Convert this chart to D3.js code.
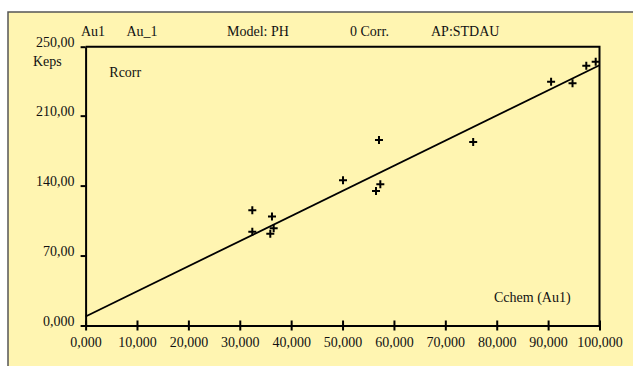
<!DOCTYPE html>
<html>
<head>
<meta charset="utf-8">
<script src="https://cdn.jsdelivr.net/npm/d3@7"></script>
<style>
  html, body { margin: 0; padding: 0; background: #ffffff; }
  svg { display: block; }
</style>
</head>
<body>
<svg id="chart"></svg>
<script>
// Measured points: chemical concentration (x) vs corrected counts (y)
const cchemValues = [32440, 32440, 36270, 36600, 35940, 50090, 57090, 57350, 56510, 75420, 90580, 94750, 97430, 99260];
const rcorrValues = [115.4, 93.7, 109.0, 97.4, 91.7, 145.4, 185.7, 141.4, 134.7, 183.7, 244.0, 242.4, 260.0, 264.0];

// Calibration line (intercept, slope)
const fitIntercept = 9.0;
const fitSlope = 0.002515;

const xTickValues = [0, 10000, 20000, 30000, 40000, 50000, 60000, 70000, 80000, 90000, 100000];
const xTickLabels = ["0,000", "10,000", "20,000", "30,000", "40,000", "50,000", "60,000", "70,000", "80,000", "90,000", "100,000"];
const yTickValues = [0, 70, 140, 210];
const yTickLabels = ["0,000", "70,00", "140,00", "210,00"];
const yTopLabel = "250,00";

const headerTexts = ["Au1", "Au_1", "Model: PH", "0 Corr.", "AP:STDAU"];
const headerX = [81, 126.5, 227, 350, 431];

const width = 633;
const height = 366;
const margin = { top: 46.7, right: 33.5, bottom: 40.5, left: 85.6 };
const plotW = width - margin.left - margin.right;
const plotH = height - margin.top - margin.bottom;
const fontFamily = "'Liberation Serif', 'Times New Roman', serif";

const svg = d3.select("#chart")
  .attr("width", width)
  .attr("height", height);

// Yellow panel
svg.append("rect")
  .attr("x", 8)
  .attr("y", 12)
  .attr("width", width)
  .attr("height", height)
  .attr("fill", "#fff5b1")
  .attr("stroke", "#555555")
  .attr("stroke-width", 1.5);

const g = svg.append("g")
  .attr("transform", `translate(${margin.left},${margin.top})`);

// Scales
const x = d3.scaleLinear().domain([0, 100000]).range([0, plotW]);
const y = d3.scaleLinear().domain([0, 279]).range([plotH, 0]);

// Frame (top and right)
g.append("path")
  .attr("d", `M0,0H${plotW}V${plotH}`)
  .attr("fill", "none")
  .attr("stroke", "#000")
  .attr("stroke-width", 2);

// X axis
const xAxis = g.append("g")
  .attr("class", "x-axis")
  .attr("transform", `translate(0,${plotH})`)
  .call(d3.axisBottom(x)
    .tickValues(xTickValues)
    .tickFormat((d, i) => xTickLabels[i])
    .tickSizeInner(5)
    .tickSizeOuter(0)
    .tickPadding(7));
xAxis.select(".domain").attr("stroke-width", 2);
xAxis.selectAll(".tick line")
  .attr("y1", -5)
  .attr("y2", 5)
  .attr("stroke-width", 2);
xAxis.selectAll("text")
  .style("font-family", fontFamily)
  .style("font-size", "14px")
  .attr("fill", "#111");

// Y axis
const yAxis = g.append("g")
  .attr("class", "y-axis")
  .call(d3.axisLeft(y)
    .tickValues(yTickValues.concat([y.domain()[1]]))
    .tickFormat((d, i) => i < yTickLabels.length ? yTickLabels[i] : yTopLabel)
    .tickSizeInner(5)
    .tickSizeOuter(0)
    .tickPadding(7));
yAxis.select(".domain").attr("stroke-width", 2);
yAxis.selectAll(".tick line").attr("stroke-width", 2);
yAxis.selectAll("text")
  .style("font-family", fontFamily)
  .style("font-size", "14px")
  .attr("fill", "#111")
  .attr("dy", "0")
  .attr("x", -11);

// Units label under the top tick
svg.append("text")
  .attr("x", 33)
  .attr("y", 66)
  .style("font-family", fontFamily)
  .style("font-size", "14px")
  .attr("fill", "#111")
  .text("Keps");

// Header line
svg.selectAll(".header")
  .data(headerTexts)
  .enter()
  .append("text")
  .attr("class", "header")
  .attr("x", (d, i) => headerX[i])
  .attr("y", 36)
  .style("font-family", fontFamily)
  .style("font-size", "14px")
  .attr("fill", "#111")
  .text((d) => d);

// Axis titles inside the plot
g.append("text")
  .attr("x", 109.3 - margin.left)
  .attr("y", 77.3 - margin.top)
  .style("font-family", fontFamily)
  .style("font-size", "14px")
  .attr("fill", "#111")
  .text("Rcorr");

g.append("text")
  .attr("x", 494 - margin.left)
  .attr("y", 301.7 - margin.top)
  .style("font-family", fontFamily)
  .style("font-size", "14px")
  .attr("fill", "#111")
  .text("Cchem (Au1)");

// Calibration line
const fitLine = d3.line()
  .x((d) => x(d))
  .y((d) => y(fitIntercept + fitSlope * d));

g.append("path")
  .datum([0, 100000])
  .attr("d", fitLine)
  .attr("fill", "none")
  .attr("stroke", "#000")
  .attr("stroke-width", 1.8);

// Plus markers
const points = cchemValues.map((c, i) => ({ c, r: rcorrValues[i] }));
g.selectAll(".pt")
  .data(points)
  .enter()
  .append("path")
  .attr("class", "pt")
  .attr("transform", (d) => `translate(${x(d.c)},${y(d.r)})`)
  .attr("d", "M-4,0H4M0,-4V4")
  .attr("stroke", "#000")
  .attr("stroke-width", 2)
  .attr("fill", "none");
</script>
</body>
</html>
